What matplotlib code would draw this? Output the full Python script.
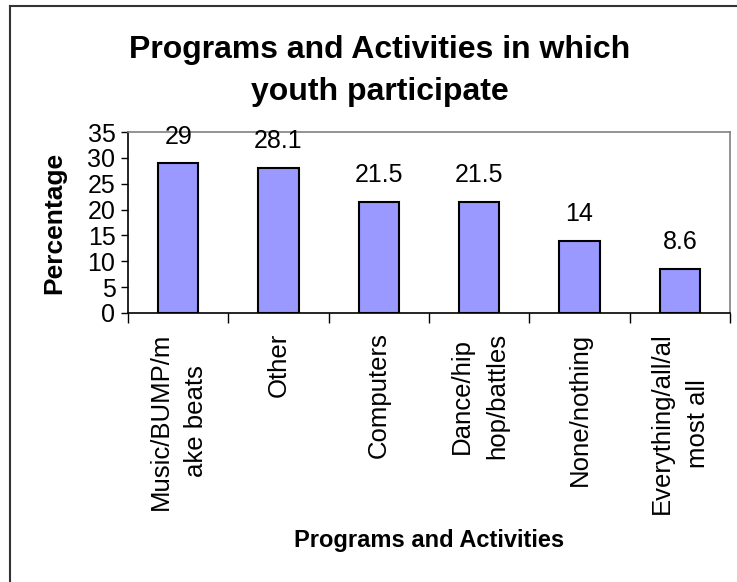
import matplotlib.pyplot as plt
import numpy as np
from matplotlib.lines import Line2D

plt.rcParams['font.family'] = ['Liberation Sans', 'DejaVu Sans']

titulo = ['Programs and Activities in which', 'youth participate']
categorias = ['Music/BUMP/m\nake beats', 'Other', 'Computers',
              'Dance/hip\nhop/battles', 'None/nothing', 'Everything/all/al\nmost all']
porcentajes = [29, 28.1, 21.5, 21.5, 14, 8.6]
etiquetas = ['29', '28.1', '21.5', '21.5', '14', '8.6']

fig = plt.figure(figsize=(7.37, 5.82), dpi=100)
ax = fig.add_axes([128/737, 1 - 313/582, (730-128)/737, (313-132)/582])

x = np.arange(len(categorias))
ax.bar(x, porcentajes, width=0.4, color='#9999FF', edgecolor='black', linewidth=1.5)

for xi, v, t in zip(x, porcentajes, etiquetas):
    ax.annotate(t, (xi, v), xytext=(0, 14), textcoords='offset points',
                ha='center', va='baseline', fontsize=18)

ax.set_xlim(-0.5, 5.5)
ax.set_ylim(0, 35)
ax.set_yticks(range(0, 36, 5))
ax.tick_params(axis='y', labelsize=18, length=5, width=1, direction='out', pad=4)

ax.set_xticks(x)
ax.set_xticklabels(categorias, rotation=90, fontsize=18.5, va='top', ha='center',
                   linespacing=1.6)
ax.set_xticks(np.arange(-0.5, 6, 1), minor=True)
ax.tick_params(axis='x', which='major', length=0, pad=14)
ax.tick_params(axis='x', which='minor', length=7, width=1, direction='out')

for s in ['top', 'right']:
    ax.spines[s].set_color('#808080')
    ax.spines[s].set_linewidth(1.2)
for s in ['left', 'bottom']:
    ax.spines[s].set_color('black')
    ax.spines[s].set_linewidth(1.2)

ax.set_ylabel('Percentage', fontsize=19, fontweight='bold')
ax.yaxis.set_label_coords((66 - 128) / (730 - 128), 0.5)
ax.set_xlabel('Programs and Activities', fontsize=17, fontweight='bold')
ax.xaxis.set_label_coords(0.5, 1 - (541 - 132) / (313 - 132))
ax.xaxis.label.set_va('center')

# titulo en dos lineas, cada una con su linea base
for linea, yb in zip(titulo, [58, 100]):
    fig.text(380/737, 1 - yb/582, linea, ha='center', va='baseline',
             fontsize=23, fontweight='bold')

# borde del grafico (solo izquierda y arriba quedan dentro de la imagen)
fig.add_artist(Line2D([10/737, 10/737], [0, 1 - 6/582], transform=fig.transFigure,
                      color='#333333', linewidth=1.5))
fig.add_artist(Line2D([10/737, 1], [1 - 6/582, 1 - 6/582], transform=fig.transFigure,
                      color='#333333', linewidth=1.5))

fig.savefig('out.png', dpi=100)
